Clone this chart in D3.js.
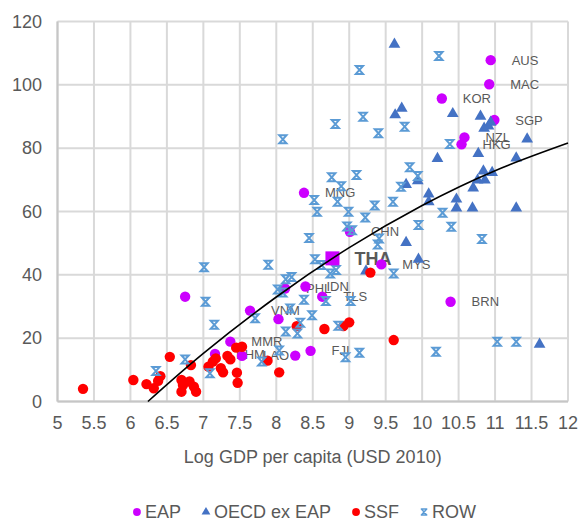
<!DOCTYPE html>
<html>
<head>
<meta charset="utf-8">
<script src="https://cdn.jsdelivr.net/npm/d3@7/dist/d3.min.js"></script>
<style>
  body { margin: 0; background: #fff; }
  svg text { font-family: "Liberation Sans", Arial, sans-serif; fill: #595959; }
</style>
</head>
<body>
<svg id="chart" width="580" height="523"></svg>
<script>
const xTicks = [5, 5.5, 6, 6.5, 7, 7.5, 8, 8.5, 9, 9.5, 10, 10.5, 11, 11.5, 12]
const yTicks = [0, 20, 40, 60, 80, 100, 120]
const xTitle = 'Log GDP per capita (USD 2010)'

// [label, log gdp, value]
const eap = [
  ['AUS', 10.94, 107.8], ['MAC', 10.92, 100.2], ['KOR', 10.27, 95.7], ['SGP', 10.99, 88.9],
  ['NZL', 10.58, 83.4], ['HKG', 10.54, 81.2], ['MNG', 8.38, 65.9], ['CHN', 9.01, 53.6],
  ['MYS', 9.44, 43.3], ['BRN', 10.39, 31.5], ['PHL', 8.12, 35.7], ['IDN', 8.40, 36.3],
  ['TLS', 8.63, 33.1], ['VNM', 7.64, 28.7], ['MMR', 7.37, 18.9], ['KHM', 7.16, 15.0],
  ['LAO', 7.53, 14.4], ['FJI', 8.47, 16.0], ['', 6.75, 33.1], ['', 8.03, 26.0], ['', 8.26, 14.5]
]
const tha = [['THA', 8.77, 45.2]]

const oecd = [
  [9.62, 113.1], [9.72, 92.9], [9.63, 90.8], [10.42, 91.2], [10.80, 90.4], [10.85, 86.6],
  [10.91, 87.3], [10.94, 88.5], [11.44, 83.2], [10.77, 78.6], [10.21, 77.0], [11.29, 77.2],
  [10.84, 73.1], [10.96, 72.6], [10.76, 70.2], [10.86, 70.2], [10.70, 67.7], [9.78, 68.8],
  [9.94, 70.0], [10.09, 65.8], [10.09, 63.4], [10.47, 64.2], [10.47, 61.4], [10.69, 61.4],
  [11.29, 61.4], [9.78, 50.5], [9.95, 45.2], [9.23, 41.5], [11.61, 18.4]
]

const ssf = [
  [5.35, 4.0], [6.04, 6.8], [6.22, 5.5], [6.32, 4.2], [6.38, 6.5], [6.41, 8.0], [6.54, 14.1],
  [6.70, 6.8], [6.72, 5.2], [6.70, 3.1], [6.81, 6.3], [6.83, 11.5], [6.87, 4.7], [6.90, 3.1],
  [7.07, 11.0], [7.13, 12.6], [7.17, 13.6], [7.24, 10.5], [7.27, 9.2], [7.33, 14.4], [7.37, 13.3],
  [7.45, 17.0], [7.53, 17.3], [7.46, 9.1], [7.47, 5.9], [7.88, 12.9], [8.04, 9.2], [8.28, 23.8],
  [8.66, 22.9], [8.92, 23.8], [9.00, 25.0], [9.29, 40.7], [9.61, 19.4]
]

const row = [
  [8.09, 82.8], [9.14, 104.7], [10.23, 109.1], [8.81, 87.6], [9.19, 89.9], [9.40, 84.7],
  [9.76, 86.8], [10.38, 81.3], [8.76, 70.8], [8.89, 68.0], [9.10, 71.5], [8.84, 63.1],
  [8.52, 63.6], [8.56, 59.9], [8.99, 59.9], [9.22, 58.1], [9.35, 61.9], [9.60, 63.1],
  [9.83, 74.0], [9.94, 71.2], [9.71, 67.8], [10.28, 59.6], [9.95, 55.7], [10.40, 55.2],
  [8.97, 55.3], [9.04, 54.1], [9.41, 51.5], [9.39, 49.6], [8.45, 51.6], [10.82, 51.3],
  [8.53, 44.9], [8.62, 43.1], [8.74, 40.4], [8.82, 41.5], [9.61, 40.4], [8.13, 38.6],
  [8.21, 39.3], [8.02, 35.4], [8.09, 34.4], [8.38, 32.1], [8.68, 31.7], [9.02, 31.7],
  [8.19, 29.4], [8.49, 27.2], [8.33, 24.9], [8.13, 22.1], [8.29, 21.5], [8.85, 23.9],
  [8.95, 14.0], [9.14, 15.4], [10.19, 15.7], [11.03, 18.9], [11.29, 18.9], [7.01, 42.4],
  [7.89, 43.2], [7.03, 31.5], [7.15, 24.2], [7.71, 26.3], [7.80, 12.6], [7.09, 8.9],
  [8.04, 16.1], [6.35, 9.6], [6.75, 13.3]
]

// trendline
const trend = [[6.24, 0], [7, 15.2], [8, 33.0], [9, 48.6], [10, 61.9], [11, 72.9], [12, 81.6]]

const legendItems = [
  { name: 'EAP', kind: 'eap' },
  { name: 'OECD ex EAP', kind: 'oecd' },
  { name: 'SSF', kind: 'ssf' },
  { name: 'ROW', kind: 'row' }
]

const COLOR = { eap: '#cc00ff', oecd: '#4472c4', ssf: '#ff0000', row: '#5b9bd5' }

const svg = d3.select('#chart')
const x = d3.scaleLinear().domain([5, 12]).range([57.5, 568])
const y = d3.scaleLinear().domain([0, 120]).range([401.5, 21.5])

const grid = svg.append('g')
grid.selectAll('.vx').data(xTicks).join('line')
  .attr('x1', d => x(d)).attr('x2', d => x(d))
  .attr('y1', y(120)).attr('y2', y(0))
  .attr('stroke', '#d9d9d9').attr('stroke-width', 2)
grid.selectAll('.hy').data(yTicks).join('line')
  .attr('class', 'hy')
  .attr('x1', x(5)).attr('x2', x(12))
  .attr('y1', d => y(d)).attr('y2', d => y(d))
  .attr('stroke', '#d9d9d9').attr('stroke-width', 2)
// axis lines
svg.append('line').attr('x1', x(5)).attr('x2', x(5)).attr('y1', y(120)).attr('y2', y(0))
  .attr('stroke', '#c6c6c6').attr('stroke-width', 2)
svg.append('line').attr('x1', x(5)).attr('x2', x(12)).attr('y1', y(0)).attr('y2', y(0))
  .attr('stroke', '#c6c6c6').attr('stroke-width', 2)

svg.append('g').selectAll('text').data(xTicks).join('text')
  .attr('x', d => x(d)).attr('y', 423).attr('dy', '0.35em')
  .attr('text-anchor', 'middle').style('font-size', '18px')
  .text(d => d)
svg.append('g').selectAll('text').data(yTicks).join('text')
  .attr('x', 42).attr('y', d => y(d)).attr('dy', '0.35em')
  .attr('text-anchor', 'end').style('font-size', '18px')
  .text(d => d)
svg.append('text').attr('x', (x(5) + x(12)) / 2).attr('y', 457).attr('dy', '0.35em')
  .attr('text-anchor', 'middle').style('font-size', '18px').text(xTitle)

// data labels (drawn under the markers)
svg.append('g').selectAll('text').data(eap.filter(d => d[0])).join('text')
  .attr('x', d => x(d[1]) + 21).attr('y', d => y(d[2])).attr('dy', '0.35em')
  .style('font-size', '13px').text(d => d[0])
svg.append('g').selectAll('text').data(tha).join('text')
  .attr('x', d => x(d[1]) + 22).attr('y', d => y(d[2])).attr('dy', '0.35em')
  .style('font-size', '18px').style('font-weight', 'bold').text(d => d[0])

const triangle = d3.symbol().type(d3.symbolTriangle).size(60)
const rowPath = 'M-3.6,-4L3.6,-4L-3.6,4L3.6,4Z'

function marker(g, kind, s) {
  if (kind === 'oecd') {
    g.append('path').attr('d', d3.symbol().type(d3.symbolTriangle).size(60 * s * s)).attr('fill', COLOR.oecd)
  } else if (kind === 'row') {
    g.append('path').attr('d', rowPath).attr('transform', `scale(${s})`)
      .attr('fill', 'none').attr('stroke', COLOR.row).attr('stroke-width', 2).attr('stroke-linejoin', 'round')
  } else {
    g.append('circle').attr('r', 5.2 * s).attr('fill', COLOR[kind])
  }
}

svg.append('g').selectAll('circle').data(eap).join('circle')
  .attr('cx', d => x(d[1])).attr('cy', d => y(d[2])).attr('r', 5.2)
  .attr('fill', COLOR.eap)
svg.append('g').selectAll('path').data(oecd).join('path')
  .attr('d', triangle)
  .attr('transform', d => `translate(${x(d[0])},${y(d[1]) + 1})`)
  .attr('fill', COLOR.oecd)
svg.append('g').selectAll('circle').data(ssf).join('circle')
  .attr('cx', d => x(d[0])).attr('cy', d => y(d[1])).attr('r', 5.2)
  .attr('fill', COLOR.ssf)
svg.append('g').selectAll('path').data(row).join('path')
  .attr('d', rowPath)
  .attr('transform', d => `translate(${x(d[0])},${y(d[1])})`)
  .attr('fill', 'none').attr('stroke', COLOR.row).attr('stroke-width', 2)
svg.append('g').selectAll('rect').data(tha).join('rect')
  .attr('x', d => x(d[1]) - 7).attr('y', d => y(d[2]) - 7)
  .attr('width', 14).attr('height', 14).attr('fill', COLOR.eap)

const line = d3.line().x(d => x(d[0])).y(d => y(d[1])).curve(d3.curveNatural)
svg.append('path').datum(trend).attr('d', line)
  .attr('fill', 'none').attr('stroke', '#000').attr('stroke-width', 1.6)

// legend
const legend = svg.append('g')
let lx = 0
legendItems.forEach(item => {
  const g = legend.append('g').attr('transform', `translate(${lx + 5},512)`)
  marker(g, item.kind, 0.75)
  const t = legend.append('text').attr('x', lx + 13).attr('y', 512).attr('dy', '0.35em')
    .style('font-size', '18px').text(item.name)
  lx += 13 + t.node().getComputedTextLength() + 20
})
const lw = lx - 20
legend.attr('transform', `translate(${304 - lw / 2},0)`)
</script>
</body>
</html>
